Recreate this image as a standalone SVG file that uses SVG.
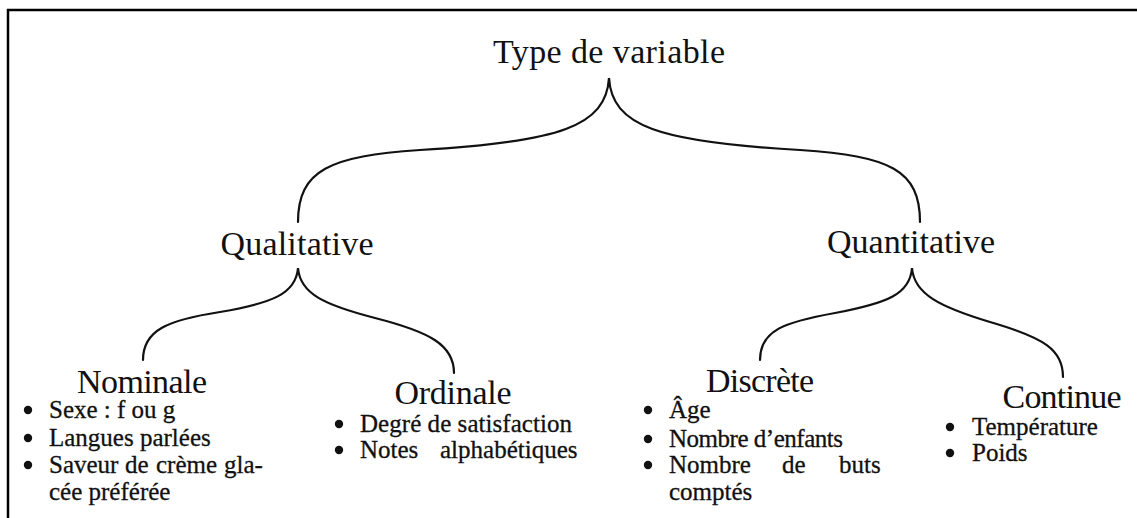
<svg xmlns="http://www.w3.org/2000/svg" width="1137" height="518" viewBox="0 0 1137 518">
  <style>
    text { font-family: "Liberation Serif", "Times New Roman", serif; fill: #111; }
    .title { font-size: 34px; text-anchor: middle; }
    .item { font-size: 25px; stroke: #111; stroke-width: 0.3; }
    .brace { fill: none; stroke: #111; stroke-width: 2.2; stroke-linecap: round; }
    .frame { fill: none; stroke: #000; stroke-width: 2.5; }
    .dot { fill: #111; }
  </style>

  <!-- page frame (open on the right and bottom) -->
  <path class="frame" d="M8,518 V10 H1137"/>

  <!-- braces joining each category to its sub-types -->
  <g id="connectors">
    <path class="brace" d="M298,222 C298,170 330,156 420,150 C560,142 606,126 609,78 C612,126 658,142 800,150 C890,156 920,170 920,222"/>
    <path class="brace" d="M143,360 C143,330 168,320 220,312 C272,303 296,294 298,268 C300,294 325,305 375,318 C430,332 454,345 454,373"/>
    <path class="brace" d="M760,360 C760,330 785,322 835,313 C888,303 910,294 912,268 C914,294 940,307 990,322 C1045,338 1063,350 1063,377"/>
  </g>

  <g id="root">
    <text class="title" x="609" y="63" textLength="232">Type de variable</text>
  </g>

  <g id="qualitative">
    <text class="title" x="297" y="255" textLength="153">Qualitative</text>
  </g>

  <g id="quantitative">
    <text class="title" x="911" y="253" textLength="168">Quantitative</text>
  </g>

  <g id="nominale">
    <text class="title" x="142" y="393" textLength="130">Nominale</text>
    <circle class="dot" cx="28" cy="410" r="4.2"/>
    <text class="item" x="49" y="418">Sexe : f ou g</text>
    <circle class="dot" cx="28" cy="438" r="4.2"/>
    <text class="item" x="49" y="446">Langues parlées</text>
    <circle class="dot" cx="28" cy="465" r="4.2"/>
    <text class="item" y="473"><tspan x="49">Saveur</tspan><tspan x="125">de</tspan><tspan x="156">crème</tspan><tspan x="224">gla-</tspan></text>
    <text class="item" x="49" y="500">cée préférée</text>
  </g>

  <g id="ordinale">
    <text class="title" x="453" y="404" textLength="117">Ordinale</text>
    <circle class="dot" cx="339" cy="424" r="4.2"/>
    <text class="item" x="360" y="432" textLength="212">Degré de satisfaction</text>
    <circle class="dot" cx="339" cy="450" r="4.2"/>
    <text class="item" y="458"><tspan x="360">Notes</tspan><tspan x="440">alphabétiques</tspan></text>
  </g>

  <g id="discrete">
    <text class="title" x="760" y="392" textLength="108">Discrète</text>
    <circle class="dot" cx="648" cy="410" r="4.2"/>
    <text class="item" x="669" y="418">Âge</text>
    <circle class="dot" cx="648" cy="439" r="4.2"/>
    <text class="item" x="669" y="447" textLength="174">Nombre d’enfants</text>
    <circle class="dot" cx="648" cy="465" r="4.2"/>
    <text class="item" y="473"><tspan x="669">Nombre</tspan><tspan x="782">de</tspan><tspan x="839">buts</tspan></text>
    <text class="item" x="669" y="500">comptés</text>
  </g>

  <g id="continue">
    <text class="title" x="1062" y="408" textLength="119">Continue</text>
    <circle class="dot" cx="950" cy="427" r="4.2"/>
    <text class="item" x="972" y="435">Température</text>
    <circle class="dot" cx="950" cy="453" r="4.2"/>
    <text class="item" x="972" y="461">Poids</text>
  </g>
</svg>
